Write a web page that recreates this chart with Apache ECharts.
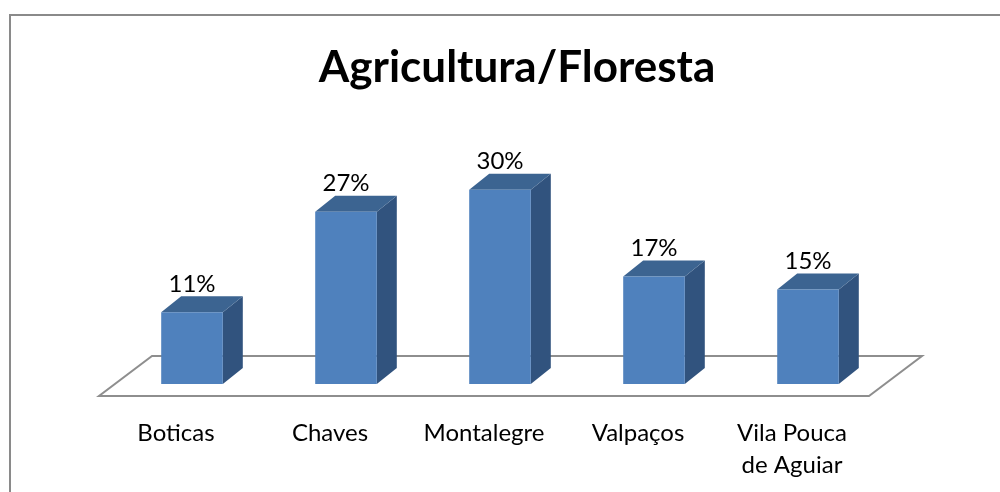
<!DOCTYPE html>
<html>
<head>
<meta charset="utf-8">
<script src="https://cdn.jsdelivr.net/npm/echarts@6/dist/echarts.min.js"></script>
<style>
  html, body { margin: 0; padding: 0; background: #fff; }
  #chart_bar { width: 1000px; height: 492px; }
</style>
</head>
<body>
<div id="chart_bar"></div>
<script>
var chartTitle = 'Agricultura/Floresta';
var categories = ['Boticas', 'Chaves', 'Montalegre', 'Valpaços', 'Vila Pouca\nde Aguiar'];
var shares = [11.1, 26.6, 30.0, 16.6, 14.6];

function fun_Chart_Bar3D() {
    var myChart = echarts.init(document.getElementById('chart_bar'));
    var FONT = 'Lato';

    // bar faces: front, top, side
    function renderBar(params, api) {
        var i = api.value(0), v = api.value(1);
        var top = api.coord([i, v]);
        var base = api.coord([i, 0]);
        var band = api.size([1, 0])[0];
        var w = band * 0.4;
        var dx = 20, dy = -16;
        var x0 = top[0] - w / 2, x1 = top[0] + w / 2;
        var yt = top[1], yb = base[1];
        return {
            type: 'group',
            children: [
                { type: 'polygon', shape: { points: [[x1, yb], [x1, yt], [x1 + dx, yt + dy], [x1 + dx, yb + dy]] },
                  style: { fill: '#31537e' } },
                { type: 'polygon', shape: { points: [[x0, yt], [x1, yt], [x1 + dx, yt + dy], [x0 + dx, yt + dy]] },
                  style: { fill: '#3c6491' } },
                { type: 'rect', shape: { x: x0, y: yt, width: w, height: yb - yt },
                  style: { fill: '#4f81bd' } },
                { type: 'text', x: top[0], y: yt + dy,
                  style: { text: Math.round(v) + '%', fill: '#000', font: '24px ' + FONT,
                           align: 'center', verticalAlign: 'bottom' } }
            ]
        };
    }

    // floor plane under the bars
    function renderFloor(params, api) {
        var n = categories.length;
        var band = api.size([1, 0])[0];
        var a = api.coord([0, 0]), b = api.coord([n - 1, 0]);
        var L = a[0] - band / 2, R = b[0] + band / 2, Y = a[1];
        return {
            type: 'polygon',
            shape: { points: [[L - 16, Y + 12], [R - 16, Y + 12], [R + 37, Y - 28], [L + 37, Y - 28]] },
            style: { fill: '#fff', stroke: '#8e8e8e', lineWidth: 2 }
        };
    }

    var option = {
        animation: false,
        title: {
            text: chartTitle,
            left: 512,
            textAlign: 'center',
            top: 41,
            textStyle: { fontFamily: FONT, fontWeight: 'bold', fontSize: 44, color: '#000' }
        },
        graphic: [{
            type: 'rect',
            shape: { x: 10, y: 15, width: 1010, height: 500 },
            style: { fill: 'none', stroke: '#8a8a8a', lineWidth: 2 },
            silent: true
        }],
        grid: { left: 115, right: 115, top: 125, bottom: 108 },
        xAxis: {
            type: 'category',
            data: categories,
            axisLine: { show: false },
            axisTick: { show: false },
            splitLine: { show: false },
            axisLabel: {
                margin: 33,
                fontFamily: FONT,
                fontSize: 24,
                lineHeight: 32,
                color: '#000',
                padding: [0, 32, 0, 0],
                interval: 0
            }
        },
        yAxis: {
            type: 'value',
            min: 0,
            max: 40,
            show: false
        },
        series: [{
            type: 'custom',
            z: 1,
            silent: true,
            renderItem: renderFloor,
            data: [[0, 0]]
        }, {
            type: 'custom',
            z: 2,
            renderItem: renderBar,
            data: shares.map(function (v, i) { return [i, v]; })
        }]
    };
    myChart.setOption(option);
}
fun_Chart_Bar3D();
</script>
</body>
</html>
